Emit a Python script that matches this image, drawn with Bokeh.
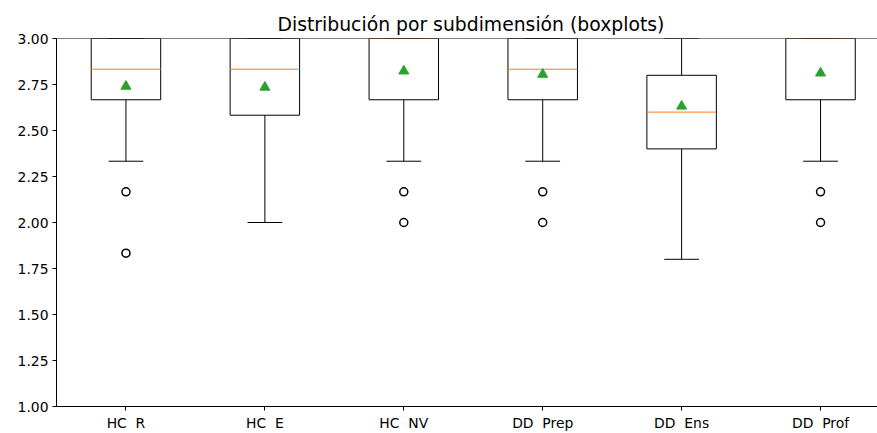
from bokeh.plotting import figure
from bokeh.models import Range1d, FixedTicker, Span, ColumnDataSource, NumeralTickFormatter
from bokeh.embed import file_html
from bokeh.resources import INLINE

NB = "\u00a0"
categories = ["HC" + NB + NB + "R", "HC" + NB + NB + "E", "HC" + NB + NB + "NV",
              "DD" + NB + NB + "Prep", "DD" + NB + NB + "Ens", "DD" + NB + NB + "Prof"]
q1 = [2.667, 2.583, 2.667, 2.667, 2.40, 2.667]
median = [2.833, 2.833, 3.0, 2.833, 2.60, 3.0]
q3 = [3.0, 3.0, 3.0, 3.0, 2.80, 3.0]
whisker_low = [2.333, 2.0, 2.333, 2.333, 1.80, 2.333]
whisker_high = [3.0, 3.0, 3.0, 3.0, 3.0, 3.0]
mean = [2.74, 2.735, 2.823, 2.805, 2.632, 2.812]
outliers = [[2.167, 1.833], [], [2.167, 2.0], [2.167, 2.0], [], [2.167, 2.0]]

FONT = "DejaVu Sans"
pos = [i + 1 for i in range(len(categories))]
box_half = 0.25
cap_half = 0.125

p = figure(width=877, height=433, output_backend="svg", toolbar_location=None,
           x_range=Range1d(0.5, 6.41), y_range=Range1d(1.0, 3.0),
           min_border_left=56, min_border_right=0, min_border_top=38, min_border_bottom=26,
           title="Distribución por subdimensión (boxplots)")
p.outline_line_color = None
p.xgrid.visible = False
p.ygrid.visible = False
p.background_fill_color = "white"
p.border_fill_color = "white"

p.title.text_font = FONT
p.title.text_font_size = "18.8px"
p.title.text_font_style = "normal"
p.title.text_color = "#000000"
p.title.align = "left"
p.title.offset = 221
p.title.standoff = 8

for ax in (p.xaxis[0], p.yaxis[0]):
    ax.axis_line_color = "black"
    ax.axis_line_width = 1
    ax.major_tick_line_color = "black"
    ax.major_tick_out = 4
    ax.major_tick_in = 0
    ax.minor_tick_line_color = None
    ax.major_label_text_font = FONT
    ax.major_label_text_font_size = "13.9px"
    ax.major_label_text_color = "#000000"
    ax.major_label_standoff = 4

p.xaxis.ticker = FixedTicker(ticks=pos)
p.xaxis.major_label_overrides = {pp: c for pp, c in zip(pos, categories)}
p.yaxis.ticker = FixedTicker(ticks=[1.0 + 0.25 * i for i in range(9)])
p.yaxis.formatter = NumeralTickFormatter(format="0.00")

p.add_layout(Span(location=3.0, dimension="width", line_color="black", line_width=1))

src = ColumnDataSource(dict(
    x=pos,
    left=[x - box_half for x in pos], right=[x + box_half for x in pos],
    cl=[x - cap_half for x in pos], cr=[x + cap_half for x in pos],
    q1=q1, q3=q3, med=median, lo=whisker_low, hi=whisker_high, mean=mean,
))

# whiskers
p.segment(x0="x", y0="lo", x1="x", y1="q1", source=src, line_color="black", line_width=1)
p.segment(x0="x", y0="q3", x1="x", y1="hi", source=src, line_color="black", line_width=1)
# caps
p.segment(x0="cl", y0="lo", x1="cr", y1="lo", source=src, line_color="black", line_width=1)
p.segment(x0="cl", y0="hi", x1="cr", y1="hi", source=src, line_color="black", line_width=1)
# boxes
p.quad(left="left", right="right", bottom="q1", top="q3", source=src,
       fill_color=None, line_color="black", line_width=1)
# medians
p.segment(x0="left", y0="med", x1="right", y1="med", source=src, line_color="#ff7f0e", line_width=1)
# means
p.scatter(x="x", y="mean", source=src, marker="triangle", size=10,
          fill_color="#2ca02c", line_color="#2ca02c")
# outliers
ox, oy = [], []
for x, vals in zip(pos, outliers):
    for v in vals:
        ox.append(x)
        oy.append(v)
p.scatter(x=ox, y=oy, marker="circle", size=8, fill_color=None, line_color="black", line_width=1.5)

open("out.html", "w").write(file_html(p, INLINE))
